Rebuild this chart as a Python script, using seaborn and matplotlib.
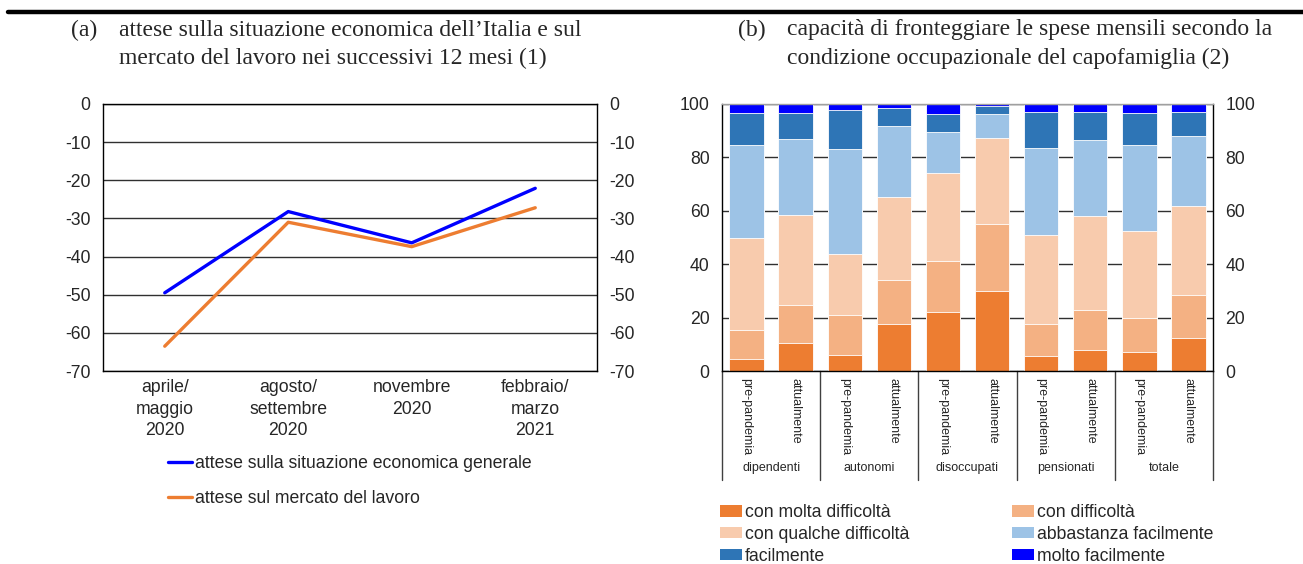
import matplotlib
matplotlib.use("Agg")
import matplotlib.pyplot as plt
from matplotlib.lines import Line2D
from matplotlib.patches import Patch
import matplotlib.transforms as mtransforms
import numpy as np
import pandas as pd
import seaborn as sns

sns.set_theme(style="white")
plt.rcParams['font.family'] = ['Liberation Sans', 'DejaVu Sans']
plt.rcParams['axes.unicode_minus'] = False

# ---------------- data: panel (a) ----------------
periods = ["aprile/\nmaggio\n2020", "agosto/\nsettembre\n2020", "novembre\n2020", "febbraio/\nmarzo\n2021"]
economia_generale = [-49.5, -28.2, -36.4, -22.1]
mercato_lavoro = [-63.5, -31.0, -37.4, -27.2]
line_labels = ["attese sulla situazione economica generale", "attese sul mercato del lavoro"]

# ---------------- data: panel (b) ----------------
groups = ["dipendenti", "autonomi", "disoccupati", "pensionati", "totale"]
periods_b = ["pre-pandemia", "attualmente"]
molta_difficolta = [4.6, 10.6, 6.1, 17.7, 22.2, 29.8, 5.7, 8.0, 7.2, 12.5]
con_difficolta = [10.9, 14.1, 14.9, 16.5, 19.1, 25.4, 12.0, 15.0, 12.8, 16.1]
qualche_difficolta = [34.4, 33.7, 22.9, 31.0, 32.9, 32.1, 33.2, 34.9, 32.3, 33.3]
abbastanza_facilmente = [34.9, 28.4, 39.4, 26.7, 15.4, 9.1, 32.7, 28.6, 32.5, 26.2]
facilmente = [11.7, 9.8, 14.5, 6.7, 6.7, 2.9, 13.3, 10.5, 11.8, 9.0]
molto_facilmente = [3.5, 3.4, 2.2, 1.4, 3.7, 0.7, 3.1, 3.0, 3.4, 2.9]
seg_labels = ["con molta difficoltà", "con difficoltà", "con qualche difficoltà",
              "abbastanza facilmente", "facilmente", "molto facilmente"]
seg_colors = ["#ED7D31", "#F4B183", "#F8CBAD", "#9DC3E6", "#2E75B6", "#0000FF"]

W, H = 1303, 564
FS = 12.7
fig = plt.figure(figsize=(W / 100, H / 100), dpi=100)

def fx(px):
    return px / W

def fy(py):
    return 1 - py / H

# top rule
fig.add_artist(Line2D([fx(8), 1.0], [fy(12), fy(12)], color="black", lw=3.2))

# titles
serif = ['Liberation Serif', 'DejaVu Serif']
TFS = 17
fig.text(fx(71), fy(30), "(a)", family=serif, fontsize=TFS, va="center", ha="left")
fig.text(fx(119), fy(30), "attese sulla situazione economica dell\u2019Italia e sul", family=serif, fontsize=TFS, va="center")
fig.text(fx(119), fy(58), "mercato del lavoro nei successivi 12 mesi (1)", family=serif, fontsize=TFS, va="center")
fig.text(fx(738), fy(30), "(b)", family=serif, fontsize=TFS, va="center", ha="left")
fig.text(fx(787), fy(30), "capacità di fronteggiare le spese mensili secondo la", family=serif, fontsize=TFS, va="center")
fig.text(fx(787), fy(58), "condizione occupazionale del capofamiglia (2)", family=serif, fontsize=TFS, va="center")

# ---------------- panel (a) ----------------
axA = fig.add_axes([fx(103), fy(371), fx(597) - fx(103), fy(104) - fy(371)])
dfA = pd.DataFrame({
    "x": list(range(len(periods))) * 2,
    "val": economia_generale + mercato_lavoro,
    "serie": [line_labels[0]] * len(periods) + [line_labels[1]] * len(periods),
})
sns.lineplot(data=dfA, x="x", y="val", hue="serie", palette=["#0000FF", "#ED7D31"],
             linewidth=2.4, ax=axA, legend=False, zorder=3)
axA.set_xlim(-0.5, 3.5)
axA.set_ylim(-70, 0)
axA.set_yticks(np.arange(-70, 1, 10))
axA.set_xticks(range(len(periods)))
axA.set_xticklabels(periods, fontsize=FS, linespacing=1.33)
axA.tick_params(axis="x", length=0, pad=6)
axA.tick_params(axis="y", length=0, labelsize=FS, labelright=True, pad=9)
axA.set_xlabel("")
axA.set_ylabel("")
axA.yaxis.grid(True, color="#303030", lw=1)
axA.xaxis.grid(False)
for s in axA.spines.values():
    s.set_color("black")
    s.set_linewidth(1)

legA = [Line2D([0], [0], color="#0000FF", lw=2.4), Line2D([0], [0], color="#ED7D31", lw=2.4)]
fig.legend(legA, line_labels, loc="upper left", bbox_to_anchor=(fx(168), fy(455)),
           frameon=False, fontsize=FS, handlelength=1.36, handletextpad=0.15,
           labelspacing=1.02, borderpad=0, borderaxespad=0)

# ---------------- panel (b) ----------------
axB = fig.add_axes([fx(722), fy(371), fx(1213) - fx(722), fy(104) - fy(371)])
segments = [molta_difficolta, con_difficolta, qualche_difficolta,
            abbastanza_facilmente, facilmente, molto_facilmente]
cum = np.cumsum(np.array(segments), axis=0)
n = len(molta_difficolta)
xlabels = [p for g in groups for p in periods_b]
for i in range(len(segments) - 1, -1, -1):
    dfB = pd.DataFrame({"pos": list(range(n)), "val": cum[i]})
    sns.barplot(data=dfB, x="pos", y="val", color=seg_colors[i], saturation=1,
                width=0.7, edgecolor="white", linewidth=0.6, ax=axB, zorder=2)
axB.set_xlim(-0.5, n - 0.5)
axB.set_ylim(0, 100)
axB.set_yticks(np.arange(0, 101, 20))
axB.set_xticks(range(n))
axB.set_xticklabels(xlabels, rotation=-90, fontsize=9, va="top", ha="center")
axB.tick_params(axis="x", length=0, pad=5)
axB.tick_params(axis="y", length=0, labelsize=FS, labelright=True, pad=9)
axB.set_xlabel("")
axB.set_ylabel("")
axB.set_axisbelow(True)
axB.yaxis.grid(True, color="#303030", lw=1)
axB.xaxis.grid(False)
for s in axB.spines.values():
    s.set_color("black")
    s.set_linewidth(1)
axB.spines["top"].set_color("#A0A0A0")

trans = mtransforms.blended_transform_factory(axB.transData, axB.transAxes)
ybottom = -(480 - 371) / (371 - 104)
for b in np.arange(-0.5, n, 2):
    axB.add_line(Line2D([b, b], [0, ybottom], transform=trans, color="#404040", lw=1, clip_on=False))
ylab = -(468 - 371) / (371 - 104)
for gi, g in enumerate(groups):
    axB.text(2 * gi + 0.5, ylab, g, transform=trans, ha="center", va="center", fontsize=9)

order = [0, 2, 4, 1, 3, 5]
legB = [Patch(facecolor=seg_colors[i], edgecolor="none") for i in order]
fig.legend(legB, [seg_labels[i] for i in order], loc="upper left", ncol=2,
           bbox_to_anchor=(fx(720), fy(504)), frameon=False, fontsize=FS,
           handlelength=1.25, handleheight=0.62, handletextpad=0.15,
           labelspacing=0.28, columnspacing=5.84, borderpad=0, borderaxespad=0)

fig.savefig("out.png", dpi=100)
